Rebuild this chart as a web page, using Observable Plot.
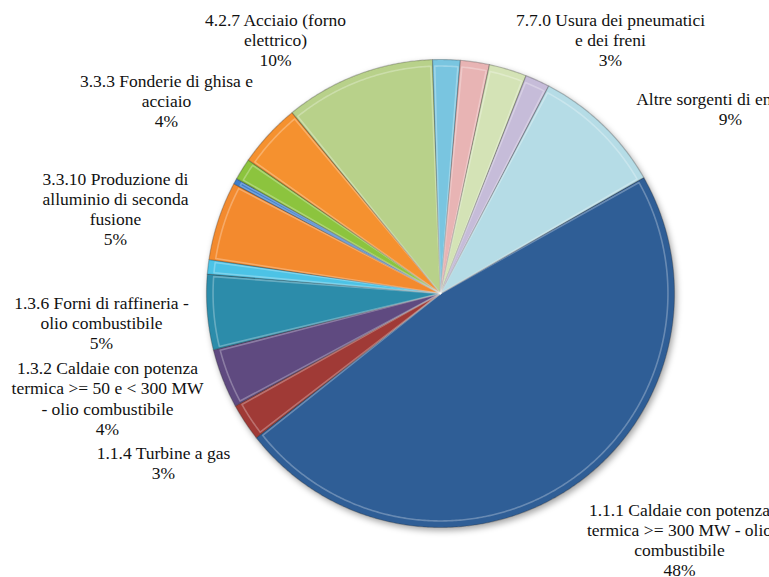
<!DOCTYPE html>
<html>
<head>
<meta charset="utf-8">
<script src="https://cdn.jsdelivr.net/npm/d3@7"></script>
<script src="https://cdn.jsdelivr.net/npm/@observablehq/plot@0.6"></script>
<style>
  html, body { margin: 0; padding: 0; background: #ffffff; overflow: hidden; }
  #chart svg { display: block; overflow: hidden; }
</style>
</head>
<body>
<div id="chart"></div>
<script>
// ---- data (clockwise order, starting with the largest slice) ----
const categories = [
  "1.1.1 Caldaie con potenza\ntermica >= 300 MW - olio\ncombustibile",
  "1.1.4 Turbine a gas",
  "1.3.2 Caldaie con potenza\ntermica >= 50 e < 300 MW\n- olio combustibile",
  "1.3.6 Forni di raffineria -\nolio combustibile",
  "slice-5",
  "3.3.10 Produzione di\nalluminio di seconda\nfusione",
  "slice-7",
  "slice-8",
  "3.3.3 Fonderie di ghisa e\nacciaio",
  "4.2.7 Acciaio (forno\nelettrico)",
  "slice-11",
  "slice-12",
  "7.7.0 Usura dei pneumatici\ne dei freni",
  "slice-14",
  "Altre sorgenti di emissione"
];
const shares = [47.7, 2.6, 4.1, 5.2, 1.0, 5.45, 0.4, 1.5, 4.4, 10.4, 1.9, 2.0, 2.6, 1.7, 9.1];
const labelled = [true, true, true, true, false, true, false, false, true, true, false, false, true, false, true];
const sliceColors = [
  "#2f5e96", "#a03a36", "#5f4a80", "#2c8caa", "#4cc3e6",
  "#f38a2e", "#3f7fcb", "#8cc43e", "#f5912f", "#b8d18a",
  "#79c5e0", "#e8b4b4", "#d4e3b6", "#c6bcd9", "#b5dce6"
];

// ---- layout ----
const W = 769, H = 577;
const CX = 440, CY = 293, R = 234;     // pie centre / radius in pixels
const firstSliceAngle = 60.3;           // degrees, clockwise from 12 o'clock
const SERIF = "Liberation Serif, DejaVu Serif, Noto Serif, Times New Roman, serif";
// label block centres, pixels
const labelAnchor = {
  0: [679, 539], 1: [163, 462], 2: [107, 397.5], 3: [101, 322],
  5: [115, 208], 8: [166, 100], 9: [275, 39], 12: [610, 39], 14: [730, 108]
};

const total = d3.sum(shares);
const keys = categories.map((_, i) => "k" + i);
const slices = [];
let acc = firstSliceAngle;
shares.forEach((v, i) => {
  const a0 = acc, a1 = acc + v / total * 360;
  slices.push({key: keys[i], i, a0, a1, v});
  acc = a1;
});

function polygon(s, rad, inset) {
  const pts = [{key: s.key, x: 0, y: 0}];
  const b0 = s.a0 + inset, b1 = s.a1 - inset;
  const n = Math.max(2, Math.ceil((b1 - b0) / 0.5));
  for (let j = 0; j <= n; j++) {
    const a = (b0 + (b1 - b0) * j / n) * Math.PI / 180;
    pts.push({key: s.key, x: rad * Math.sin(a), y: rad * Math.cos(a)});
  }
  return pts;
}
const outer = slices.flatMap(s => polygon(s, 1, 0));
const inner = slices.flatMap(s => polygon(s, 0.972, Math.min(0.5, (s.a1 - s.a0) / 4)));

const labels = slices.filter(s => labelled[s.i]).map(s => ({
  text: categories[s.i] + "\n" + Math.round(s.v / total * 100) + "%",
  x: (labelAnchor[s.i][0] - CX) / R,
  y: (CY - labelAnchor[s.i][1]) / R
}));

const chart = Plot.plot({
  width: W,
  height: H,
  margin: 0,
  style: {background: "#ffffff", overflow: "hidden"},
  x: {domain: [-CX / R, (W - CX) / R], axis: null},
  y: {domain: [-(H - CY) / R, CY / R], axis: null},
  color: {domain: keys, range: sliceColors},
  marks: [
    Plot.line(outer, {
      x: "x", y: "y", z: "key", fill: "key",
      stroke: "#2a2a2a", strokeOpacity: 0.28, strokeWidth: 1.2,
      curve: "linear-closed",
      imageFilter: "drop-shadow(2px 3px 3px rgba(0,0,0,0.35))"
    }),
    Plot.line(inner, {
      x: "x", y: "y", z: "key", fill: "none",
      stroke: "#ffffff", strokeOpacity: 0.28, strokeWidth: 1.6,
      curve: "linear-closed"
    }),
    Plot.text(labels, {
      x: "x", y: "y", text: "text",
      fontFamily: SERIF,
      fontSize: 17.5, lineHeight: 1.16,
      fill: "#111111", textAnchor: "middle"
    })
  ]
});
chart.style.fontFamily = SERIF;
d3.select(chart).selectAll("text, tspan, g")
  .attr("font-family", SERIF)
  .style("font-family", SERIF);
document.getElementById("chart").appendChild(chart);
</script>
</body>
</html>
